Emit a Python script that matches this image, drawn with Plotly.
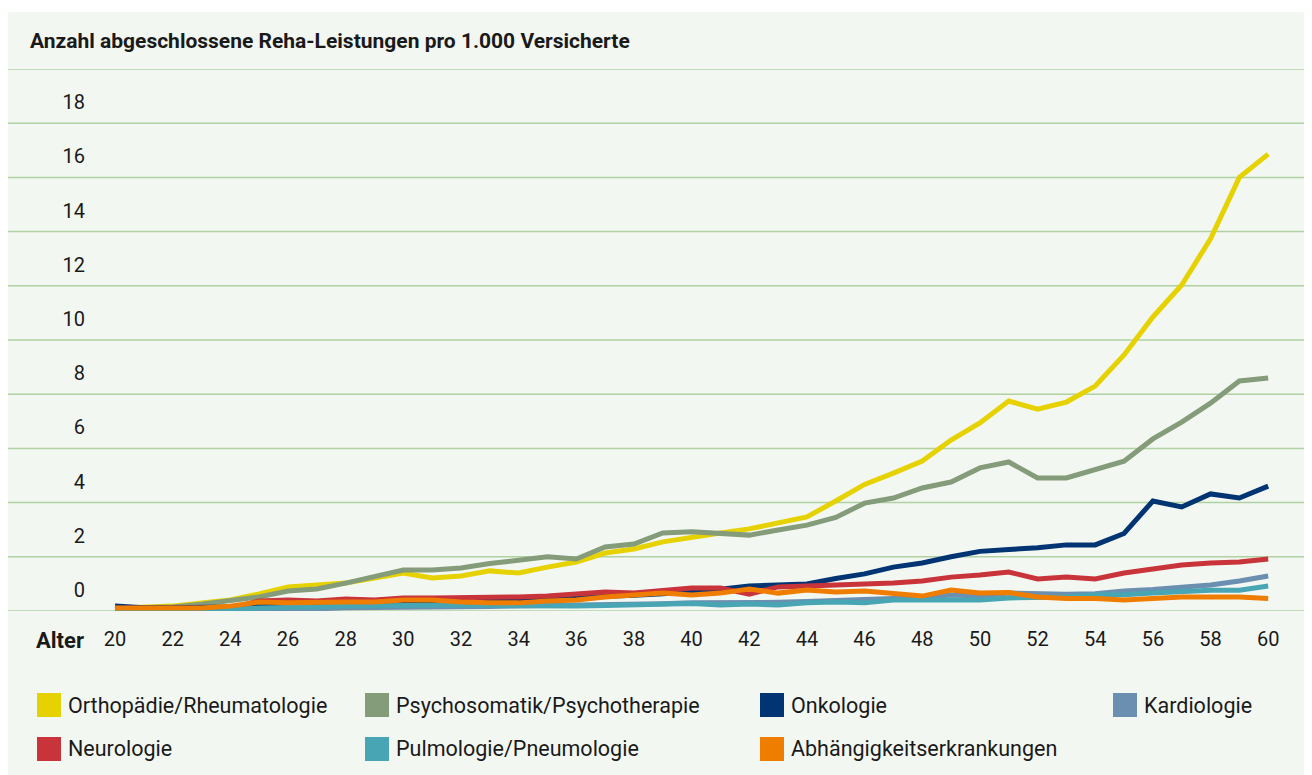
import plotly.graph_objects as go

# Abgeschlossene Reha-Leistungen pro 1.000 Versicherte nach Alter
ages = list(range(20, 61))

orthopaedie = [0.10, 0.12, 0.18, 0.30, 0.41, 0.63, 0.89, 0.96, 1.03, 1.22,
               1.40, 1.22, 1.29, 1.48, 1.40, 1.62, 1.81, 2.14, 2.29, 2.55,
               2.73, 2.88, 3.03, 3.25, 3.47, 4.06, 4.67, 5.09, 5.53, 6.31,
               6.94, 7.75, 7.45, 7.71, 8.30, 9.45, 10.85, 12.03, 13.73, 16.00,
               16.86]
psychosomatik = [0.10, 0.12, 0.15, 0.25, 0.37, 0.52, 0.74, 0.81, 1.03, 1.29,
                 1.51, 1.51, 1.59, 1.75, 1.88, 2.00, 1.92, 2.36, 2.47, 2.88,
                 2.92, 2.88, 2.80, 2.99, 3.17, 3.45, 3.98, 4.17, 4.54, 4.76,
                 5.28, 5.50, 4.91, 4.91, 5.24, 5.53, 6.35, 6.97, 7.67, 8.49,
                 8.60]
onkologie = [0.18, 0.12, 0.12, 0.12, 0.15, 0.18, 0.20, 0.22, 0.25, 0.28,
             0.30, 0.33, 0.35, 0.38, 0.42, 0.45, 0.48, 0.52, 0.58, 0.64,
             0.70, 0.80, 0.92, 0.94, 1.00, 1.20, 1.37, 1.62, 1.77, 2.00,
             2.20, 2.27, 2.33, 2.44, 2.44, 2.86, 4.06, 3.84, 4.32, 4.17,
             4.61]
kardiologie = [0.05, 0.05, 0.05, 0.05, 0.06, 0.08, 0.10, 0.08, 0.12, 0.14,
               0.15, 0.15, 0.16, 0.17, 0.18, 0.20, 0.20, 0.22, 0.25, 0.27,
               0.30, 0.30, 0.32, 0.32, 0.35, 0.38, 0.41, 0.45, 0.50, 0.59,
               0.55, 0.66, 0.62, 0.62, 0.64, 0.74, 0.79, 0.89, 0.96, 1.11,
               1.29]
neurologie = [0.10, 0.10, 0.10, 0.10, 0.10, 0.37, 0.41, 0.37, 0.44, 0.41,
              0.48, 0.48, 0.48, 0.52, 0.52, 0.55, 0.63, 0.70, 0.66, 0.74,
              0.85, 0.85, 0.62, 0.89, 0.92, 0.99, 1.00, 1.03, 1.11, 1.25,
              1.33, 1.44, 1.18, 1.25, 1.18, 1.40, 1.55, 1.70, 1.77, 1.81,
              1.92]
pulmologie = [0.05, 0.05, 0.05, 0.05, 0.05, 0.11, 0.15, 0.15, 0.18, 0.20,
              0.22, 0.22, 0.22, 0.20, 0.18, 0.18, 0.18, 0.20, 0.22, 0.26,
              0.28, 0.22, 0.26, 0.22, 0.30, 0.33, 0.30, 0.41, 0.41, 0.44,
              0.41, 0.48, 0.50, 0.52, 0.60, 0.60, 0.66, 0.72, 0.77, 0.77,
              0.92]
abhaengigkeit = [0.11, 0.11, 0.11, 0.11, 0.18, 0.33, 0.30, 0.33, 0.33, 0.33,
                 0.41, 0.41, 0.33, 0.30, 0.30, 0.37, 0.41, 0.52, 0.59, 0.66,
                 0.59, 0.66, 0.81, 0.66, 0.77, 0.70, 0.74, 0.66, 0.55, 0.77,
                 0.66, 0.68, 0.52, 0.46, 0.46, 0.41, 0.46, 0.52, 0.52, 0.52,
                 0.46]

names = ["Orthopädie/Rheumatologie", "Psychosomatik/Psychotherapie", "Onkologie",
         "Kardiologie", "Neurologie", "Pulmologie/Pneumologie", "Abhängigkeitserkrankungen"]
series = [orthopaedie, psychosomatik, onkologie, kardiologie, neurologie, pulmologie, abhaengigkeit]
colors = ["#e6d200", "#849c7a", "#003473", "#6a8fb0", "#c9333a", "#48a5b3", "#ef7d00"]

y_ticks = list(range(0, 20, 2))
grid_vals = list(range(0, 22, 2))
x_ticks = list(range(20, 62, 2))

BG = "#f3f7f1"
GRID = "#b0d2a2"
FONT = "Roboto"
TXT = "#1a1a1a"
W, H = 1312, 775
L, R, T, B = 88, 0, 61, 172
PW, PH = W - L - R, H - T - B


def px_x(p):
    return (p - L) / PW


def px_y(p):
    return (H - B - p) / PH


fig = go.Figure()
for name, vals, col in zip(names, series, colors):
    fig.add_trace(go.Scatter(x=ages, y=vals, name=name, mode="lines",
                             line=dict(color=col, width=5), showlegend=False))

shapes = [dict(type="rect", xref="paper", yref="paper", x0=px_x(-5), x1=px_x(W + 5),
               y0=px_y(4), y1=px_y(-5), fillcolor="white", line_width=0, layer="below")]
for g in grid_vals:
    shapes.append(dict(type="line", xref="paper", yref="y", x0=px_x(0), x1=1, y0=g, y1=g,
                       line=dict(color=GRID, width=1.5), layer="below"))

annotations = [dict(text="<b>Alter</b>", xref="paper", yref="paper", x=px_x(78), y=px_y(632),
                    xanchor="right", yanchor="middle", showarrow=False,
                    font=dict(family=FONT, size=22, color=TXT))]

# legend: 4 columns, 2 rows with square swatches
col_x = [29, 357, 752, 1105]
row_y = [697, 741]
for i, (name, col) in enumerate(zip(names, colors)):
    r, c = divmod(i, 4)
    sx, sy = col_x[c], row_y[r]
    shapes.append(dict(type="rect", xref="paper", yref="paper",
                       x0=px_x(sx), x1=px_x(sx + 24), y0=px_y(sy + 12), y1=px_y(sy - 12),
                       fillcolor=col, line_width=0))
    annotations.append(dict(text=name, xref="paper", yref="paper", x=px_x(sx + 29), y=px_y(sy),
                            xanchor="left", yanchor="middle", showarrow=False,
                            font=dict(family=FONT, size=21.5, color=TXT)))

fig.update_layout(
    width=W, height=H,
    margin=dict(l=L, r=R, t=T, b=B, pad=0),
    paper_bgcolor=BG, plot_bgcolor=BG,
    font=dict(family=FONT, size=20, color=TXT),
    title=dict(text="<b>Anzahl abgeschlossene Reha-Leistungen pro 1.000 Versicherte</b>",
               xref="container", yref="container", x=22 / W, y=1 - 33 / H,
               xanchor="left", yanchor="middle",
               font=dict(family=FONT, size=21, color=TXT)),
    xaxis=dict(range=[19.341, 61.797], tickvals=x_ticks, showgrid=False, zeroline=False,
               showline=False, ticks="", ticklabelstandoff=14, fixedrange=True),
    yaxis=dict(range=[0, 20], tickvals=y_ticks, showgrid=False, zeroline=False,
               showline=False, ticks="", ticklabelstandoff=10, ticklabelshift=-21,
               fixedrange=True),
    shapes=shapes, annotations=annotations,
    showlegend=False,
)

fig.write_html("out.html")
